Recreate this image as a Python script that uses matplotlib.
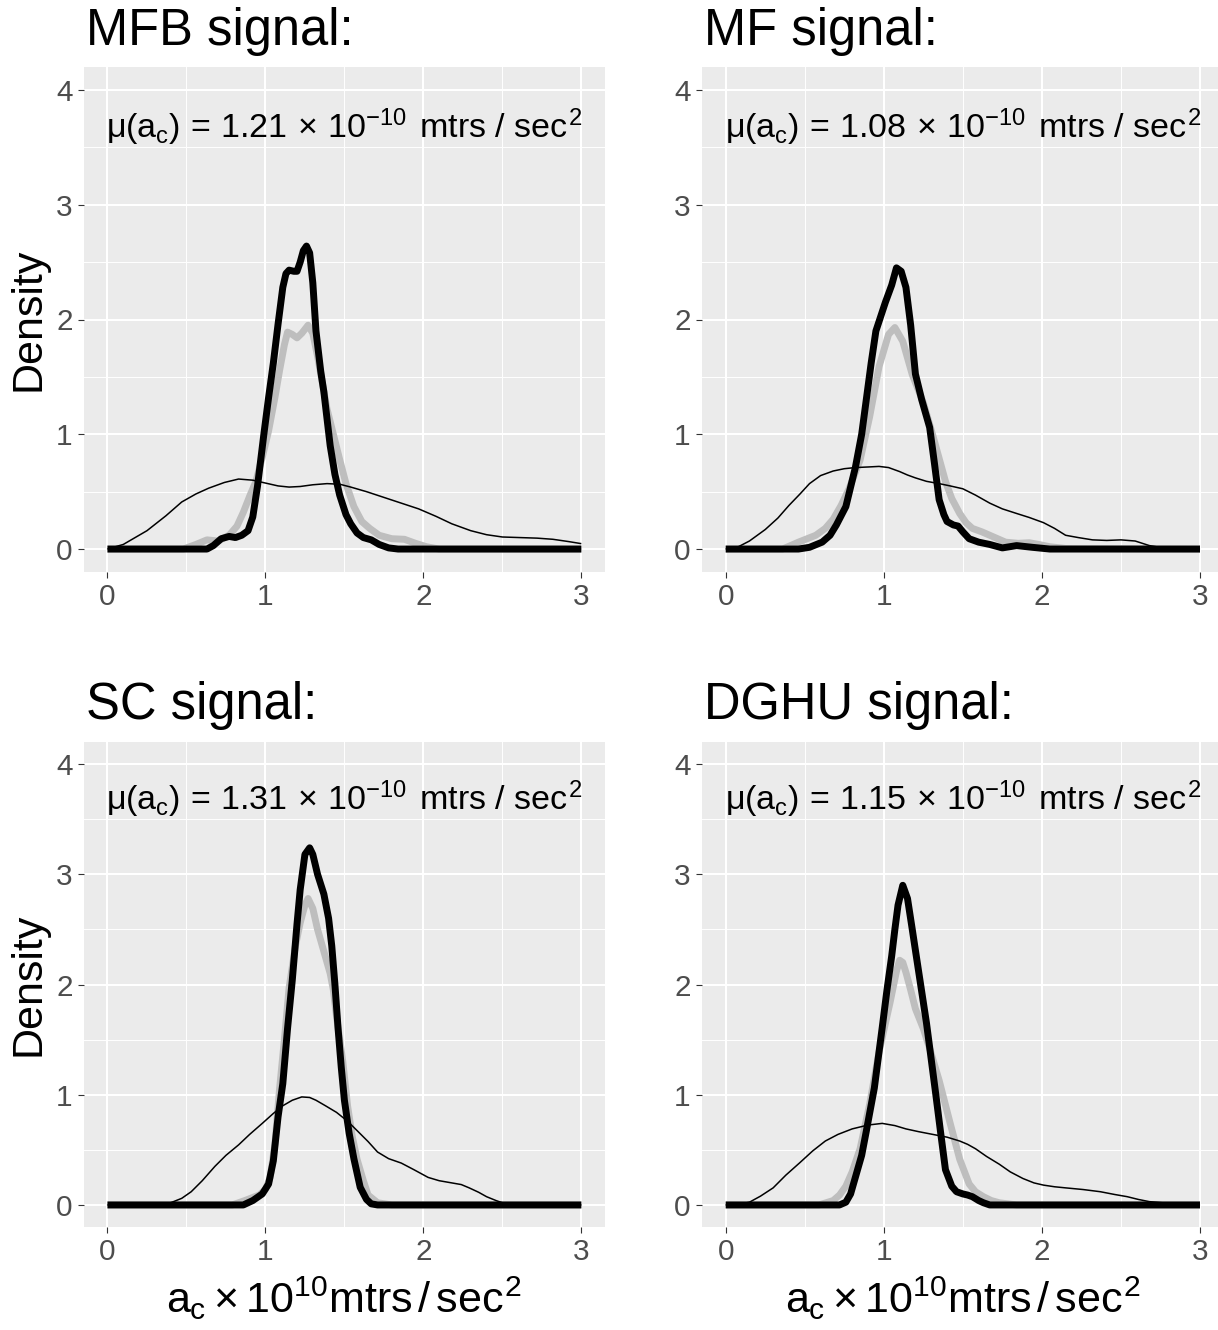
import matplotlib
matplotlib.use("Agg")
import matplotlib.pyplot as plt
from matplotlib.ticker import FixedLocator

plt.rcParams['font.family'] = ['Liberation Sans', 'DejaVu Sans']
plt.rcParams['mathtext.fontset'] = 'custom'
plt.rcParams['mathtext.rm'] = 'Liberation Sans'
plt.rcParams['mathtext.it'] = 'Liberation Sans'
plt.rcParams['mathtext.bf'] = 'Liberation Sans:bold'
plt.rcParams['mathtext.sf'] = 'Liberation Sans'

# ---------------- data ----------------
titles = ["MFB signal:", "MF signal:", "SC signal:", "DGHU signal:"]
means = ["1.21", "1.08", "1.31", "1.15"]
x_ticks = [0, 1, 2, 3]
y_ticks = [0, 1, 2, 3, 4]

# MFB
mfb_thin_x = [0, 0.1, 0.25, 0.37, 0.47, 0.56, 0.64, 0.74, 0.83, 0.92, 1.0, 1.08, 1.15, 1.22, 1.30, 1.39, 1.47,
              1.54, 1.64, 1.75, 1.86, 1.97, 2.08, 2.18, 2.30, 2.40, 2.50, 2.61, 2.72, 2.82, 2.92, 3.0]
mfb_thin_y = [0, 0.04, 0.16, 0.29, 0.41, 0.48, 0.53, 0.58, 0.61, 0.60, 0.575, 0.55, 0.54, 0.545, 0.56, 0.57, 0.565,
              0.54, 0.50, 0.45, 0.40, 0.35, 0.285, 0.22, 0.16, 0.125, 0.105, 0.10, 0.095, 0.085, 0.065, 0.047]
mfb_grey_x = [0, 0.48, 0.56, 0.63, 0.70, 0.77, 0.82, 0.86, 0.90, 0.94, 0.98, 1.02, 1.06, 1.09, 1.12, 1.14, 1.17,
              1.20, 1.23, 1.27, 1.30, 1.33, 1.36, 1.39, 1.43, 1.47, 1.51, 1.56, 1.61, 1.66, 1.72, 1.80, 1.88, 1.95,
              2.02, 2.10, 3.0]
mfb_grey_y = [0, 0, 0.04, 0.08, 0.07, 0.12, 0.20, 0.32, 0.46, 0.59, 0.80, 1.03, 1.32, 1.56, 1.78, 1.89, 1.87,
              1.84, 1.88, 1.95, 1.88, 1.68, 1.45, 1.22, 1.00, 0.78, 0.57, 0.37, 0.24, 0.18, 0.12, 0.09, 0.085, 0.05,
              0.02, 0, 0]
mfb_black_x = [0, 0.63, 0.67, 0.72, 0.77, 0.81, 0.85, 0.89, 0.92, 0.95, 0.99, 1.02, 1.05, 1.08, 1.11, 1.13, 1.15,
               1.18, 1.20, 1.22, 1.24, 1.26, 1.28, 1.30, 1.32, 1.35, 1.37, 1.41, 1.44, 1.47, 1.51, 1.54, 1.58, 1.62,
               1.67, 1.72, 1.78, 1.84, 3.0]
mfb_black_y = [0, 0, 0.03, 0.09, 0.11, 0.10, 0.12, 0.16, 0.28, 0.55, 1.0, 1.32, 1.62, 1.96, 2.28, 2.40, 2.43,
               2.42, 2.42, 2.50, 2.60, 2.64, 2.58, 2.32, 1.90, 1.55, 1.37, 0.90, 0.65, 0.47, 0.30, 0.22, 0.14, 0.10,
               0.08, 0.04, 0.01, 0, 0]

# MF
mf_thin_x = [0, 0.08, 0.15, 0.25, 0.33, 0.40, 0.47, 0.53, 0.60, 0.68, 0.75, 0.82, 0.90, 0.97, 1.03, 1.10, 1.15,
             1.20, 1.27, 1.35, 1.42, 1.50, 1.58, 1.67, 1.75, 1.84, 1.92, 2.01, 2.08, 2.15, 2.23, 2.32, 2.41, 2.50,
             2.59, 2.68, 2.76, 2.83, 2.92, 3.0]
mf_thin_y = [0, 0.02, 0.07, 0.17, 0.27, 0.38, 0.48, 0.57, 0.64, 0.68, 0.70, 0.71, 0.715, 0.72, 0.71, 0.675, 0.645,
             0.62, 0.59, 0.57, 0.55, 0.525, 0.47, 0.40, 0.35, 0.31, 0.275, 0.23, 0.18, 0.12, 0.10, 0.08, 0.075, 0.08,
             0.07, 0.03, 0.012, 0.006, 0.002, 0]
mf_grey_x = [0, 0.36, 0.46, 0.57, 0.63, 0.68, 0.73, 0.78, 0.85, 0.91, 0.97, 1.03, 1.07, 1.12, 1.18, 1.25, 1.31,
             1.35, 1.39, 1.43, 1.48, 1.52, 1.56, 1.62, 1.67, 1.72, 1.77, 1.85, 1.92, 1.98, 2.05, 2.15, 3.0]
mf_grey_y = [0, 0, 0.06, 0.12, 0.18, 0.26, 0.38, 0.525, 0.775, 1.15, 1.59, 1.87, 1.93, 1.81, 1.52, 1.275, 0.99,
             0.79, 0.59, 0.44, 0.31, 0.23, 0.18, 0.15, 0.12, 0.09, 0.06, 0.05, 0.055, 0.04, 0.02, 0.005, 0]
mf_black_x = [0, 0.46, 0.53, 0.61, 0.66, 0.70, 0.76, 0.82, 0.86, 0.89, 0.92, 0.95, 1.01, 1.05, 1.08, 1.11, 1.14,
              1.17, 1.20, 1.24, 1.29, 1.32, 1.35, 1.38, 1.40, 1.44, 1.47, 1.50, 1.54, 1.60, 1.67, 1.75, 1.84, 1.94,
              2.05, 3.0]
mf_black_y = [0, 0, 0.015, 0.06, 0.12, 0.21, 0.37, 0.71, 1.0, 1.31, 1.62, 1.90, 2.15, 2.30, 2.45, 2.42, 2.28,
              1.95, 1.525, 1.30, 1.06, 0.75, 0.43, 0.30, 0.24, 0.21, 0.20, 0.15, 0.09, 0.06, 0.04, 0.01, 0.03, 0.015,
              0, 0]

# SC
sc_thin_x = [0, 0.25, 0.33, 0.40, 0.47, 0.53, 0.60, 0.68, 0.75, 0.83, 0.90, 0.98, 1.05, 1.11, 1.17, 1.23, 1.28,
             1.32, 1.38, 1.45, 1.52, 1.58, 1.65, 1.71, 1.78, 1.86, 1.94, 2.03, 2.10, 2.18, 2.24, 2.29, 2.35, 2.40,
             2.46, 2.52, 2.62, 2.72, 2.85, 3.0]
sc_thin_y = [0, 0, 0.005, 0.02, 0.06, 0.12, 0.22, 0.35, 0.45, 0.545, 0.64, 0.74, 0.83, 0.90, 0.95, 0.98, 0.975,
             0.95, 0.90, 0.84, 0.76, 0.675, 0.575, 0.48, 0.42, 0.38, 0.32, 0.25, 0.22, 0.20, 0.185, 0.155, 0.115,
             0.075, 0.04, 0.01, 0.01, 0.013, 0.008, 0]
sc_grey_x = [0, 0.79, 0.87, 0.96, 1.00, 1.03, 1.06, 1.09, 1.12, 1.15, 1.19, 1.22, 1.25, 1.27, 1.30, 1.33, 1.35,
             1.38, 1.41, 1.43, 1.45, 1.49, 1.52, 1.55, 1.58, 1.62, 1.65, 1.71, 1.80, 3.0]
sc_grey_y = [0, 0, 0.04, 0.09, 0.14, 0.25, 0.55, 1.06, 1.50, 1.97, 2.35, 2.56, 2.72, 2.78, 2.69, 2.50, 2.40,
             2.25, 2.10, 1.95, 1.71, 1.30, 0.90, 0.62, 0.415, 0.22, 0.09, 0.02, 0, 0]
sc_black_x = [0, 0.86, 0.92, 0.98, 1.02, 1.05, 1.08, 1.11, 1.14, 1.17, 1.20, 1.22, 1.25, 1.28, 1.30, 1.33, 1.37,
              1.40, 1.42, 1.44, 1.46, 1.48, 1.50, 1.53, 1.56, 1.60, 1.64, 1.67, 1.71, 3.0]
sc_black_y = [0, 0, 0.04, 0.10, 0.19, 0.40, 0.80, 1.10, 1.60, 2.04, 2.55, 2.86, 3.18, 3.24, 3.18, 3.00, 2.82,
              2.60, 2.35, 2.00, 1.60, 1.25, 0.95, 0.65, 0.42, 0.16, 0.05, 0.01, 0, 0]

# DGHU
dg_thin_x = [0, 0.08, 0.15, 0.22, 0.30, 0.38, 0.47, 0.55, 0.63, 0.71, 0.80, 0.90, 0.99, 1.07, 1.14, 1.22, 1.31,
             1.40, 1.48, 1.53, 1.58, 1.65, 1.73, 1.80, 1.88, 1.95, 2.01, 2.08, 2.15, 2.26, 2.37, 2.46, 2.54, 2.61,
             2.68, 2.76, 2.83, 2.92, 3.0]
dg_thin_y = [0, 0.005, 0.025, 0.08, 0.155, 0.27, 0.385, 0.49, 0.58, 0.64, 0.69, 0.725, 0.74, 0.72, 0.69, 0.665,
             0.64, 0.615, 0.58, 0.55, 0.51, 0.44, 0.37, 0.30, 0.24, 0.20, 0.18, 0.165, 0.155, 0.14, 0.12, 0.095,
             0.075, 0.05, 0.03, 0.02, 0.015, 0.01, 0.006]
dg_grey_x = [0, 0.59, 0.68, 0.72, 0.76, 0.80, 0.85, 0.91, 0.97, 1.04, 1.08, 1.10, 1.12, 1.14, 1.17, 1.20, 1.25,
             1.29, 1.35, 1.42, 1.48, 1.54, 1.58, 1.63, 1.68, 1.73, 1.84, 3.0]
dg_grey_y = [0, 0, 0.04, 0.09, 0.17, 0.30, 0.51, 0.91, 1.39, 1.84, 2.12, 2.22, 2.20, 2.11, 1.95, 1.78, 1.60,
             1.42, 1.13, 0.74, 0.415, 0.19, 0.12, 0.075, 0.04, 0.02, 0, 0]
dg_black_x = [0, 0.72, 0.76, 0.79, 0.82, 0.86, 0.89, 0.94, 0.99, 1.02, 1.05, 1.07, 1.09, 1.12, 1.15, 1.18, 1.20,
              1.27, 1.33, 1.36, 1.39, 1.43, 1.46, 1.50, 1.53, 1.56, 1.60, 1.63, 1.67, 3.0]
dg_black_y = [0, 0, 0.025, 0.10, 0.25, 0.45, 0.675, 1.06, 1.61, 1.95, 2.26, 2.50, 2.72, 2.90, 2.78, 2.50, 2.31,
              1.65, 0.99, 0.65, 0.32, 0.17, 0.12, 0.10, 0.09, 0.075, 0.04, 0.02, 0, 0]

panels = [
    (mfb_thin_x, mfb_thin_y, mfb_grey_x, mfb_grey_y, mfb_black_x, mfb_black_y),
    (mf_thin_x, mf_thin_y, mf_grey_x, mf_grey_y, mf_black_x, mf_black_y),
    (sc_thin_x, sc_thin_y, sc_grey_x, sc_grey_y, sc_black_x, sc_black_y),
    (dg_thin_x, dg_thin_y, dg_grey_x, dg_grey_y, dg_black_x, dg_black_y),
]

# ---------------- layout ----------------
W, H = 1218, 1330
fig = plt.figure(figsize=(W / 100, H / 100), dpi=100)


def rect(l, r, t, b):
    return [l / W, 1 - b / H, (r - l) / W, (b - t) / H]


boxes = [(83.8, 605.0, 67, 572), (702.0, 1223.7, 67, 572),
         (83.8, 605.0, 742, 1227), (702.0, 1223.7, 742, 1227)]

for i, (box, data) in enumerate(zip(boxes, panels)):
    l, r, t, b = box
    ax = fig.add_axes(rect(l, r, t, b))
    ax.set_facecolor('#EBEBEB')
    for s in ax.spines.values():
        s.set_visible(False)
    ax.set_xlim(-0.15, 3.15)
    ax.set_ylim(-0.2, 4.2)
    ax.xaxis.set_major_locator(FixedLocator(x_ticks))
    ax.yaxis.set_major_locator(FixedLocator(y_ticks))
    ax.xaxis.set_minor_locator(FixedLocator([0.5, 1.5, 2.5]))
    ax.yaxis.set_minor_locator(FixedLocator([0.5, 1.5, 2.5, 3.5]))
    ax.grid(which='major', color='white', lw=1.45)
    ax.grid(which='minor', color='white', lw=0.7)
    ax.set_axisbelow(True)
    ax.tick_params(which='major', length=4.3, width=0.8, color='#333333',
                   labelcolor='#4D4D4D', labelsize=21.4, pad=3.8)
    ax.tick_params(which='minor', length=0)

    tx, ty, gx, gy, bx, by = data
    ax.plot(gx, gy, color='#BEBEBE', lw=5.0, solid_capstyle='butt', solid_joinstyle='round')
    ax.plot(tx, ty, color='black', lw=1.1, solid_capstyle='butt', solid_joinstyle='round')
    ax.plot(bx, by, color='black', lw=5.0, solid_capstyle='butt', solid_joinstyle='round')

    ax.text(1.5, 3.58,
            r'$\mu(a_c)\,=\,%s\,\times\,10^{-10}\;\,mtrs\,\,/\,\,sec^2$' % means[i],
            ha='center', va='baseline', fontsize=24.5, color='black')

    # titles
    ty_px = 45 if i < 2 else 719
    fig.text((l + 2) / W, 1 - ty_px / H, titles[i], fontsize=36.5,
             ha='left', va='baseline', color='black')

    if i % 2 == 0:
        fig.text(28 / W, 1 - ((t + b) / 2) / H, 'Density', rotation=90,
                 fontsize=31, ha='center', va='center', color='black')
    if i >= 2:
        fig.text(((l + r) / 2) / W, 1 - 1313 / H,
                 r'$a_c \times 10^{10}mtrs\,/\,sec^2$',
                 fontsize=31, ha='center', va='baseline', color='black')

fig.savefig('out.png', dpi=100, facecolor='white')
